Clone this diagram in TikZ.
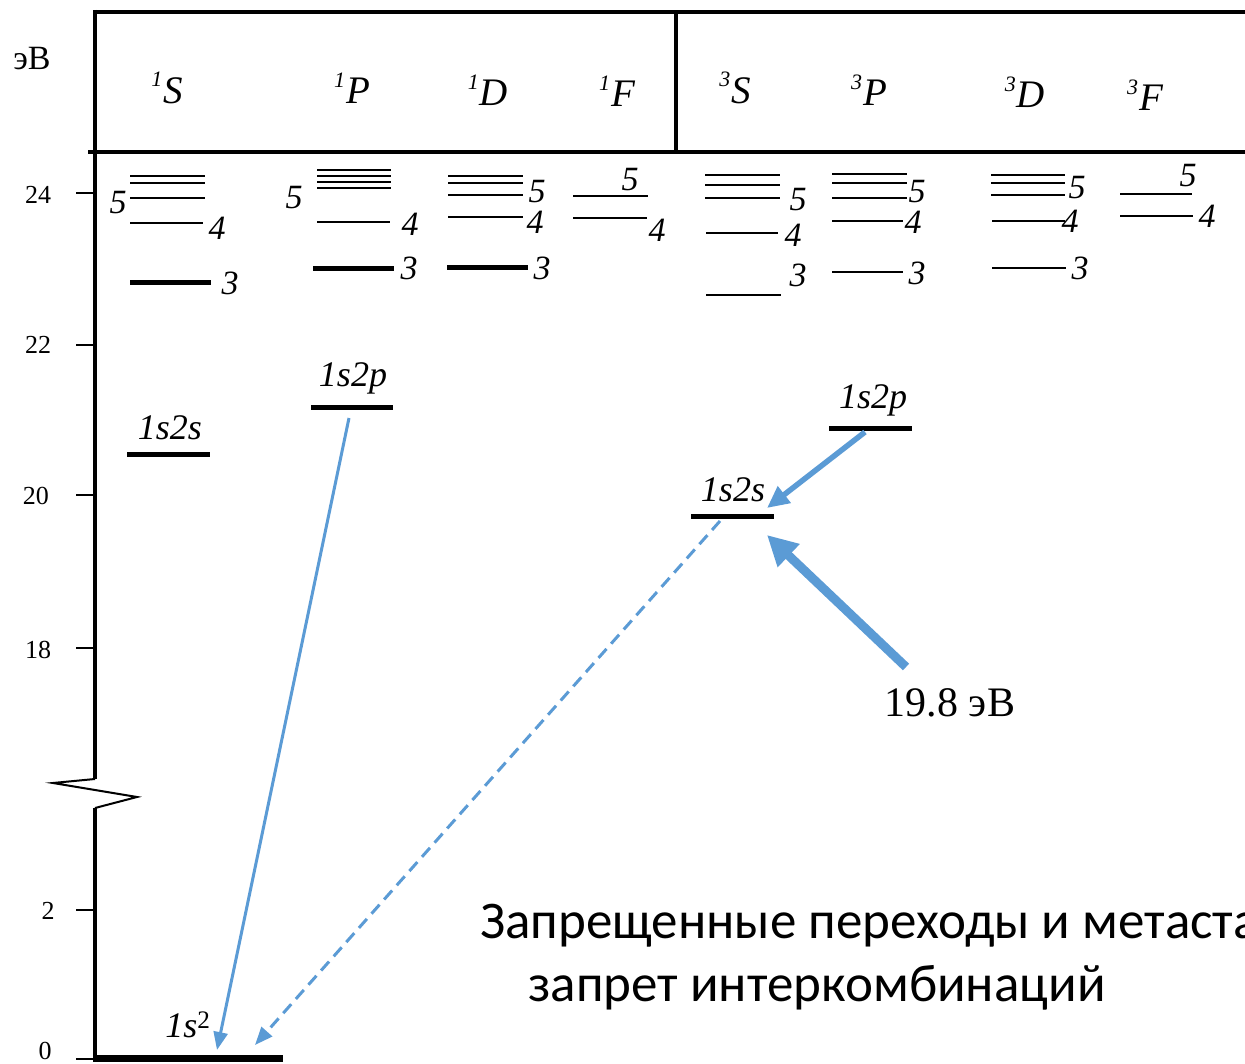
\documentclass[tikz,border=0pt]{standalone}
\usepackage{fontspec}
\setmainfont{Liberation Serif}
\newfontfamily\sansfam{Carlito}
\usetikzlibrary{arrows.meta}
\definecolor{arrblue}{RGB}{91,155,213}
\newcommand\hterm[2]{\itshape\raisebox{0.42em}{\fontsize{22}{22}\selectfont #1}\hspace{1pt}#2}
\begin{document}
\begin{tikzpicture}[x=1pt,y=-1pt,
  frame/.style={line width=4.5pt},
  thinline/.style={line width=2pt},
  lvl/.style={line width=5pt},
  tick/.style={line width=2.5pt},
  num/.style={font=\fontsize{34}{34}\selectfont\itshape, inner sep=0pt},
  term/.style={font=\fontsize{39}{39}\selectfont, inner sep=0pt},
  conf/.style={font=\fontsize{36}{36}\selectfont\itshape, inner sep=0pt},
  axlab/.style={font=\fontsize{26}{26}\selectfont, inner sep=0pt},
  arr/.style={draw=arrblue, line width=3pt, -{Triangle[length=18pt,width=14pt]}},
  arrdash/.style={arr, dash pattern=on 12pt off 7pt},
  arrmed/.style={draw=arrblue, line width=5.5pt, -{Triangle[length=22pt,width=20pt]}},
  arrthick/.style={draw=arrblue, line width=9pt, -{Triangle[length=30pt,width=30pt]}},
  note/.style={font=\sansfam\fontsize{53}{53}\selectfont, inner sep=0pt, anchor=base west}
]
\clip (0,0) rectangle (1245,1064);
\fill[white] (0,0) rectangle (1245,1064);

% frame
\draw[frame] (93,12) -- (1250,12);
\draw[frame] (88,152) -- (1250,152);
\draw[frame] (676,12) -- (676,152);
% axis with break
\draw[frame] (95,10) -- (95,779);
\draw[thinline] (95,779) -- (53,783) -- (137,797) -- (95,808);
\draw[frame] (95,808) -- (95,1062);
% ticks
\foreach \yy in {193,345,495,648,910,1059} \draw[tick] (76,\yy) -- (95,\yy);
\node[axlab] (t24) at (38,195) {24};
\node[axlab] (t22) at (38,345) {22};
\node[axlab] (t20) at (36,496) {20};
\node[axlab] (t18) at (38,650) {18};
\node[axlab] (t2) at (48,911) {2};
\node[axlab] (t0) at (45,1051) {0};
\node[font=\fontsize{34}{34}\selectfont, inner sep=0pt] (unit) at (32,59) {эВ};

% header terms
\node[term] (h1S) at (167,88) {\hterm{1}{S}};
\node[term] (h1P) at (352,88) {\hterm{1}{P}};
\node[term] (h1D) at (488,90) {\hterm{1}{D}};
\node[term] (h1F) at (617,91) {\hterm{1}{F}};
\node[term] (h3S) at (735,88) {\hterm{3}{S}};
\node[term] (h3P) at (869,90) {\hterm{3}{P}};
\node[term] (h3D) at (1025,92) {\hterm{3}{D}};
\node[term] (h3F) at (1145,95) {\hterm{3}{F}};

% 1S
\foreach \yy in {176,183,198} \draw[thinline] (130,\yy) -- (205,\yy);
\draw[thinline] (130,223) -- (203,223);
\draw[lvl] (130,283) -- (211,283);
\node[num] (s1S5) at (118,203) {5};
\node[num] (s1S4) at (217,228) {4};
\node[num] (s1S3) at (230,283) {3};
% 1P
\foreach \yy in {170,176,182,188} \draw[thinline] (317,\yy) -- (391,\yy);
\draw[thinline] (317,222) -- (390,222);
\draw[lvl] (313,269) -- (394,269);
\node[num] (s1P5) at (294,198) {5};
\node[num] (s1P4) at (410,224) {4};
\node[num] (s1P3) at (409,268) {3};
% 1D
\foreach \yy in {176,183,195} \draw[thinline] (448,\yy) -- (523,\yy);
\draw[thinline] (448,217) -- (523,217);
\draw[lvl] (447,268) -- (528,268);
\node[num] (s1D5) at (537,192) {5};
\node[num] (s1D4) at (535,222) {4};
\node[num] (s1D3) at (542,268) {3};
% 1F
\draw[thinline] (573,196) -- (648,196);
\draw[thinline] (573,218) -- (647,218);
\node[num] (s1F5) at (630,180) {5};
\node[num] (s1F4) at (657,230) {4};
% 3S
\foreach \yy in {175,185,198} \draw[thinline] (705,\yy) -- (780,\yy);
\draw[thinline] (706,233) -- (778,233);
\draw[thinline] (706,295) -- (781,295);
\node[num] (s3S5) at (798,200) {5};
\node[num] (s3S4) at (793,235) {4};
\node[num] (s3S3) at (798,275) {3};
% 3P
\foreach \yy in {174,183,198} \draw[thinline] (832,\yy) -- (907,\yy);
\draw[thinline] (832,221) -- (903,221);
\draw[thinline] (832,272) -- (903,272);
\node[num] (s3P5) at (917,192) {5};
\node[num] (s3P4) at (913,222) {4};
\node[num] (s3P3) at (917,273) {3};
% 3D
\foreach \yy in {175,183,195} \draw[thinline] (991,\yy) -- (1065,\yy);
\draw[thinline] (992,221) -- (1065,221);
\draw[thinline] (992,268) -- (1066,268);
\node[num] (s3D5) at (1077,188) {5};
\node[num] (s3D4) at (1070,221) {4};
\node[num] (s3D3) at (1080,268) {3};
% 3F
\draw[thinline] (1120,194) -- (1192,194);
\draw[thinline] (1120,216) -- (1193,216);
\node[num] (s3F5) at (1188,176) {5};
\node[num] (s3F4) at (1207,216) {4};

% main levels
\draw[lvl] (127,454) -- (210,454);
\node[conf] (c1s2sS) at (170,428) {1s2s};
\draw[lvl] (311,408) -- (393,408);
\node[conf] (c1s2pS) at (353,378) {1s2p};
\draw[lvl] (829,428) -- (912,428);
\node[conf] (c1s2pT) at (873,400) {1s2p};
\draw[lvl] (691,516) -- (774,516);
\node[conf] (c1s2sT) at (733,490) {1s2s};
\draw[line width=7pt] (95,1058) -- (283,1058);
\node[conf] (cgr) at (188,1025) {1s\textsuperscript{\upshape 2}};

% arrow endpoints
\coordinate (pS) at (349,418);
\coordinate (gA) at (217,1050);
\coordinate (sT) at (720,521);
\coordinate (gB) at (255,1045);
\coordinate (pT) at (865,432);
\coordinate (sTin) at (767,508);
\coordinate (ext) at (906,667);
\coordinate (sTex) at (767,535);

\draw[arr] (pS) -- (gA);
\draw[arrdash] (sT) -- (gB);
\draw[arrmed] (pT) -- (sTin);
\draw[arrthick] (ext) -- (sTex);

\node[font=\fontsize{42}{42}\selectfont, inner sep=0pt] (e198) at (950,703) {19.8 эВ};

\node[note] (n1) at (480,938) {Запрещенные переходы и метаста};
\node[note] (n2) at (528,1001) {запрет интеркомбинаций};
\end{tikzpicture}
\end{document}
